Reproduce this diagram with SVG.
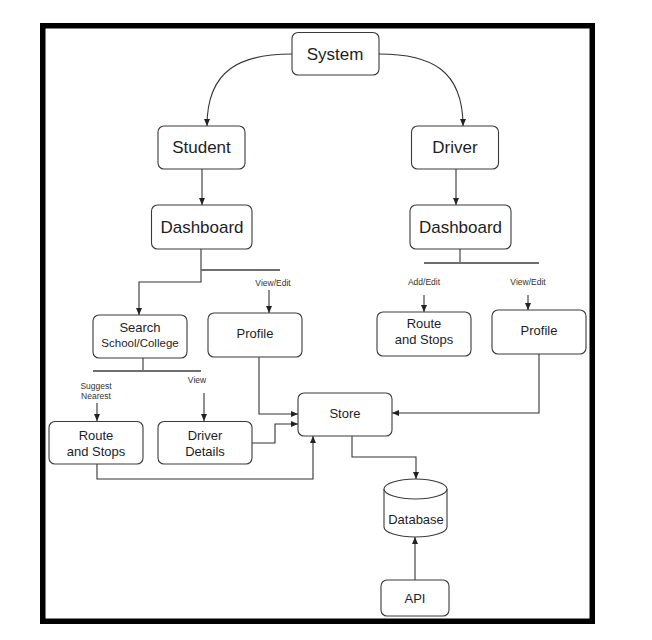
<svg xmlns="http://www.w3.org/2000/svg" width="652" height="640" viewBox="0 0 652 640">
<defs>
<style>
.box{fill:#fff;stroke:#3a3a3a;stroke-width:1.1}
.t{font-family:"Liberation Sans",Arial,sans-serif;fill:#1e1e1e;text-anchor:middle}
.big{font-size:17px}
.mid{font-size:13px}
.sm{font-size:11.5px}
.lbl{font-size:8.5px;fill:#333}
.ln{fill:none;stroke:#333;stroke-width:1.1}
.bar{fill:none;stroke:#6e6e6e;stroke-width:1.8}
</style>
<marker id="ah" markerWidth="8" markerHeight="8" refX="7" refY="4" orient="auto" markerUnits="userSpaceOnUse">
<path d="M0,1 L7,4 L0,7 Z" fill="#222"/>
</marker>
</defs>
<rect x="0" y="0" width="652" height="640" fill="#fff"/>
<rect x="42.75" y="25.75" width="549.5" height="595.5" fill="#fff" stroke="#000" stroke-width="5.5"/>

<g id="connectors">
<path class="ln" d="M292,54 C240,54 207,70 207,126" marker-end="url(#ah)"/>
<path class="ln" d="M379,54 C431,54 463,70 463,126" marker-end="url(#ah)"/>
<path class="ln" d="M202,169 V205" marker-end="url(#ah)"/>
<path class="ln" d="M456,169 V205" marker-end="url(#ah)"/>
<path class="ln" d="M201,249 V282 H139 V315" marker-end="url(#ah)"/>
<path class="bar" d="M201,270 H280"/>
<path class="ln" d="M460,249 V263"/>
<path class="bar" d="M424,263 H539"/>
<path class="ln" d="M143,358 V371"/>
<path class="bar" d="M93,371 H201"/>
<path class="ln" d="M269,290 V313" marker-end="url(#ah)"/>
<path class="ln" d="M97,403 V421" marker-end="url(#ah)"/>
<path class="ln" d="M204,393 V421" marker-end="url(#ah)"/>
<path class="ln" d="M424,295 V312" marker-end="url(#ah)"/>
<path class="ln" d="M528,295 V310" marker-end="url(#ah)"/>
<path class="ln" d="M259,357 V414 H298" marker-end="url(#ah)"/>
<path class="ln" d="M252,443 H275 V424 H298" marker-end="url(#ah)"/>
<path class="ln" d="M97,464 V479 H313 V436" marker-end="url(#ah)"/>
<path class="ln" d="M539,354 V413 H392" marker-end="url(#ah)"/>
<path class="ln" d="M352,436 V457 H416 V479" marker-end="url(#ah)"/>
<path class="ln" d="M415,580 V537" marker-end="url(#ah)"/>
</g>

<g id="labels">
<text class="t lbl" x="273" y="286">View/Edit</text>
<text class="t lbl" x="424" y="285">Add/Edit</text>
<text class="t lbl" x="528" y="285">View/Edit</text>
<text class="t lbl" x="96" y="389">Suggest</text>
<text class="t lbl" x="96" y="399">Nearest</text>
<text class="t lbl" x="197" y="383">View</text>
</g>

<g id="system">
<rect class="box" x="292" y="32.5" width="87" height="42.5" rx="6"/>
<text class="t big" x="335" y="60">System</text>
</g>
<g id="student">
<rect class="box" x="158" y="126" width="87" height="43" rx="6"/>
<text class="t big" x="201.5" y="153">Student</text>
</g>
<g id="driver">
<rect class="box" x="411.5" y="126" width="87" height="43" rx="6"/>
<text class="t big" x="455" y="153">Driver</text>
</g>
<g id="student-dashboard">
<rect class="box" x="151.5" y="205" width="100.5" height="44" rx="6"/>
<text class="t big" x="202" y="233">Dashboard</text>
</g>
<g id="driver-dashboard">
<rect class="box" x="410" y="205" width="101" height="44" rx="6"/>
<text class="t big" x="460.5" y="233">Dashboard</text>
</g>
<g id="search">
<rect class="box" x="93" y="315" width="94" height="43" rx="6"/>
<text class="t mid" x="140" y="332">Search</text>
<text class="t sm" x="140" y="347">School/College</text>
</g>
<g id="student-profile">
<rect class="box" x="208" y="313" width="94" height="44" rx="6"/>
<text class="t mid" x="255" y="338">Profile</text>
</g>
<g id="student-route">
<rect class="box" x="49" y="421.5" width="94" height="42.5" rx="6"/>
<text class="t mid" x="96" y="440">Route</text>
<text class="t mid" x="96" y="456">and Stops</text>
</g>
<g id="driver-details">
<rect class="box" x="158" y="421.5" width="94" height="42.5" rx="6"/>
<text class="t mid" x="205" y="440">Driver</text>
<text class="t mid" x="205" y="456">Details</text>
</g>
<g id="driver-route">
<rect class="box" x="377" y="312" width="94" height="44" rx="6"/>
<text class="t mid" x="424" y="328">Route</text>
<text class="t mid" x="424" y="344">and Stops</text>
</g>
<g id="driver-profile">
<rect class="box" x="492" y="310" width="94" height="44" rx="6"/>
<text class="t mid" x="539" y="335">Profile</text>
</g>
<g id="store">
<rect class="box" x="298" y="393" width="94" height="43" rx="6"/>
<text class="t mid" x="345" y="418">Store</text>
</g>
<g id="database">
<path class="box" d="M384,489 A31.5,10 0 0 1 447,489 V527 A31.5,10 0 0 1 384,527 Z"/>
<path class="box" d="M384,489 A31.5,10 0 0 0 447,489" fill="none"/>
<text class="t mid" x="416" y="524">Database</text>
</g>
<g id="api">
<rect class="box" x="381" y="580" width="68" height="36" rx="6"/>
<text class="t mid" x="415" y="603">API</text>
</g>
</svg>
